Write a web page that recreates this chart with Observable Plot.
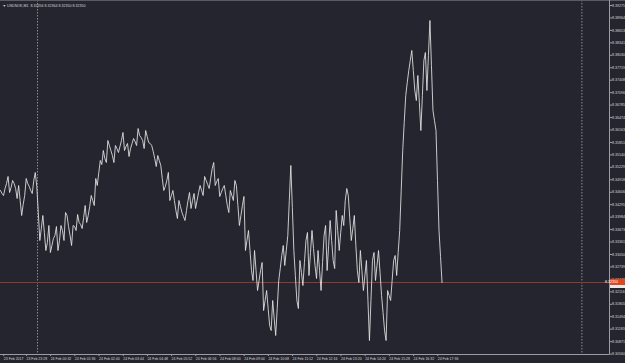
<!DOCTYPE html>
<html><head><meta charset="utf-8">
<script src="https://cdn.jsdelivr.net/npm/d3@7"></script>
<script src="https://cdn.jsdelivr.net/npm/@observablehq/plot@0.6"></script>
<style>
html,body{margin:0;padding:0;background:#25252f;overflow:hidden}
#chart svg{display:block}
</style></head><body><div id="chart"></div>
<script>
const symbol = "USDNOK,M1";
const ohlc = ["8.32356", "8.32364", "8.32350", "8.32350"];
const startTime = "2017-02-23T22:22";
const stepMinutes = 8;
// closes on the 8-minute marks
const closes = [
 8.3465, 8.34525, 8.34825, 8.3460, 8.3490, 8.3470, 8.34775, 8.34025, 8.34525, 8.34825, 8.3465, 8.3490, 8.3475,
 8.3340, 8.34025, 8.3315, 8.33775, 8.33275, 8.33525, 8.3315, 8.33775, 8.3340, 8.34025, 8.33525, 8.33775, 8.3365, 8.3385, 8.3370, 8.34275, 8.34025, 8.34525, 8.34275, 8.34775,
 8.3540, 8.3565, 8.3535, 8.35775, 8.35525, 8.35775, 8.3560, 8.3590, 8.3565, 8.35825, 8.3570, 8.3595, 8.35775, 8.36025, 8.3590, 8.3615, 8.3585, 8.35775, 8.3545, 8.35525, 8.35275,
 8.3465, 8.3490, 8.3440, 8.3465, 8.3415, 8.3440, 8.3410, 8.3390, 8.3440, 8.3420, 8.34575, 8.3440, 8.34775, 8.34525, 8.3490, 8.3470, 8.3520, 8.34775, 8.3495, 8.3460, 8.34775, 8.34275, 8.3465, 8.3440, 8.34775,
 8.33775, 8.34275, 8.3315, 8.3365, 8.3265, 8.3315, 8.3215, 8.3265, 8.3165, 8.3215, 8.31275, 8.3190, 8.31025, 8.3240, 8.33025, 8.32775, 8.33525, 8.35275,
 8.3315, 8.3190, 8.3290, 8.32275, 8.3340, 8.32525, 8.3365, 8.32775, 8.3315, 8.3215, 8.33525, 8.3265, 8.3390, 8.3290, 8.3415, 8.3315, 8.34025, 8.3440, 8.34525, 8.3340, 8.34025, 8.3265, 8.3315, 8.3215, 8.3290,
 8.3090, 8.3290, 8.3240, 8.3315, 8.32025, 8.3115, 8.3215, 8.3190, 8.3290, 8.32525, 8.3365, 8.3565, 8.37025, 8.3765, 8.3815, 8.3715, 8.37525, 8.3615, 8.3790, 8.3715, 8.3890, 8.3665, 8.3615, 8.3365, 8.3235
];
// closes four minutes after each 8-minute mark
const closesHalf = [
 8.34575, 8.3470, 8.3500, 8.34725, 8.34825, 8.3445, 8.3440, 8.3430, 8.3495, 8.3475, 8.34575, 8.3510, 8.3410,
 8.3370, 8.3360, 8.3335, 8.3310, 8.3345, 8.3375, 8.3340, 8.3365, 8.3410, 8.3375, 8.33275, 8.3375, 8.3405, 8.3380, 8.33975, 8.3385, 8.3425, 8.3440, 8.3495, 8.3510,
 8.3530, 8.3545, 8.3590, 8.3565, 8.3535, 8.3570, 8.3575, 8.3610, 8.3575, 8.3550, 8.35825, 8.35875, 8.3620, 8.35975, 8.3570, 8.3600, 8.35825, 8.35625, 8.3525, 8.3540, 8.3495,
 8.3475, 8.3510, 8.34525, 8.3440, 8.3395, 8.3425, 8.3400, 8.3415, 8.3460, 8.3440, 8.3420, 8.3460, 8.3465, 8.3500, 8.3480, 8.3495, 8.3535, 8.34875, 8.3450, 8.3470, 8.34525, 8.3410, 8.34525, 8.3490, 8.34275,
 8.34025, 8.3450, 8.3340, 8.3315, 8.3240, 8.3265, 8.3240, 8.3285, 8.3190, 8.3170, 8.3115, 8.3145, 8.3170, 8.3270, 8.33275, 8.3315, 8.3440, 8.34225,
 8.32525, 8.3170, 8.3260, 8.3285, 8.3360, 8.3310, 8.3320, 8.3245, 8.3265, 8.3285, 8.33775, 8.33275, 8.3340, 8.3270, 8.3365, 8.3360, 8.33775, 8.3470, 8.3395, 8.3370, 8.33275, 8.3235, 8.3265, 8.32525, 8.3190,
 8.3190, 8.3310, 8.32775, 8.3260, 8.3160, 8.3090, 8.32025, 8.3240, 8.33025, 8.3310, 8.3465, 8.3635, 8.3735, 8.3790, 8.3765, 8.3690, 8.3685, 8.37025, 8.3810, 8.38025, 8.37775, 8.3640, 8.3490, 8.3300
];
const bid = 8.3235;
const separators = ["2017-02-24T00:00", "2017-02-25T00:00"];
const xTickTimes = ["2017-02-23T22:28","2017-02-23T23:28","2017-02-24T00:32","2017-02-24T01:36","2017-02-24T02:40","2017-02-24T03:44","2017-02-24T04:48","2017-02-24T05:52","2017-02-24T06:56","2017-02-24T08:00","2017-02-24T09:04","2017-02-24T10:08","2017-02-24T11:12","2017-02-24T12:16","2017-02-24T13:20","2017-02-24T14:24","2017-02-24T15:28","2017-02-24T16:32","2017-02-24T17:36"];
const xTickLabels = ["23 Feb 2017","23 Feb 23:28","24 Feb 00:32","24 Feb 01:36","24 Feb 02:40","24 Feb 03:44","24 Feb 04:48","24 Feb 05:52","24 Feb 06:56","24 Feb 08:00","24 Feb 09:04","24 Feb 10:08","24 Feb 11:12","24 Feb 12:16","24 Feb 13:20","24 Feb 14:24","24 Feb 15:28","24 Feb 16:32","24 Feb 17:36"];
const yTickValues = [8.39275, 8.38964, 8.38653, 8.38341, 8.38030, 8.37719, 8.37408, 8.37096, 8.36785, 8.36474, 8.36163, 8.35851, 8.35540, 8.35229, 8.34918, 8.34606, 8.34295, 8.33984, 8.33673, 8.33361, 8.33050, 8.32739, 8.32428, 8.32116, 8.31805, 8.31494, 8.31183, 8.30871, 8.30560];
const xDomain = ["2017-02-23T22:22", "2017-02-25T01:13"];
const yDomain = [8.3055, 8.3940];

const parse = s => new Date(s);
const t0 = +parse(startTime);
const series = [];
closes.forEach((c, i) => {
  series.push({t: new Date(t0 + i * stepMinutes * 60000), c});
  if (i < closesHalf.length) series.push({t: new Date(t0 + (i + 0.5) * stepMinutes * 60000), c: closesHalf[i]});
});
const labelByTime = new Map(xTickTimes.map((s, i) => [+parse(s), xTickLabels[i]]));
const axisColor = "#9c9ca4";
const textColor = "#d6d6d6";

const decor = (index, scales, values, dimensions) => {
  const {width, height, marginRight, marginBottom} = dimensions;
  const xr = width - marginRight, yb = height - marginBottom;
  const g = d3.create("svg:g");
  g.append("line").attr("x1", 0).attr("x2", width).attr("y1", 0.5).attr("y2", 0.5).attr("stroke", "#5a5a64");
  g.append("line").attr("x1", 0).attr("x2", xr + 0.5).attr("y1", yb + 0.5).attr("y2", yb + 0.5).attr("stroke", axisColor);
  g.append("line").attr("x1", xr + 0.5).attr("x2", xr + 0.5).attr("y1", 0).attr("y2", yb + 0.5).attr("stroke", axisColor);
  const yy = Math.round(scales.y(bid));
  g.append("rect").attr("x", xr + 1).attr("y", yy - 3).attr("width", 20).attr("height", 6).attr("fill", "#e2461e");
  g.append("text").attr("x", xr + 2.5).attr("y", yy).attr("dy", "0.35em").attr("fill", "#ffffff").attr("font-size", 3.6).text(bid.toFixed(5));
  g.append("rect").attr("x", xr + 1).attr("y", yy + 3).attr("width", 20).attr("height", 3).attr("fill", "#e8e8e8");
  return g.node();
};

const chart = Plot.plot({
  width: 625, height: 363,
  marginLeft: 0, marginRight: 16, marginTop: 0, marginBottom: 9,
  style: {background: "#25252f", color: textColor, fontFamily: "Liberation Sans, Arial, sans-serif", fontSize: "3.6px", overflow: "hidden"},
  x: {type: "time", domain: xDomain.map(parse), label: null},
  y: {domain: yDomain, label: null},
  marks: [
    Plot.ruleX(separators.map(parse), {stroke: "#8d8d96", strokeDasharray: "1.5,1.5", strokeWidth: 1}),
    Plot.ruleY([bid], {stroke: "#93392b", strokeWidth: 1}),
    Plot.lineY(series, {x: "t", y: "c", stroke: "#e6e6e6", strokeWidth: 0.85}),
    Plot.axisX({ticks: xTickTimes.map(parse), tickFormat: d => labelByTime.get(+d), label: null, textAnchor: "start", tickSize: 2, tickPadding: 1, dx: 1, fontSize: 3.5, stroke: axisColor, fill: textColor}),
    Plot.axisY({anchor: "right", ticks: yTickValues, tickFormat: d => d.toFixed(5), label: null, tickSize: 2, tickPadding: 0.5, fontSize: 3.6, stroke: axisColor, fill: textColor}),
    decor,
    Plot.text([`\u25BC ${symbol}  ${ohlc.join(" ")}`], {frameAnchor: "top-left", dx: 2, dy: 4, fill: textColor, textAnchor: "start", fontSize: 3.6})
  ]
});
document.getElementById("chart").appendChild(chart);
</script></body></html>
